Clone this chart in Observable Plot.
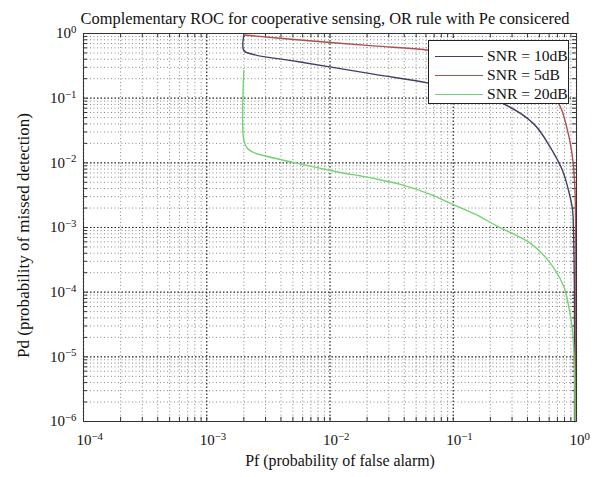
<!DOCTYPE html>
<html><head><meta charset="utf-8">
<script src="https://cdn.jsdelivr.net/npm/d3@7"></script>
<script src="https://cdn.jsdelivr.net/npm/@observablehq/plot@0.6"></script>
<style>
body{margin:0;background:#fff;}
#wrap{position:relative;width:597px;height:477px;font-family:"Liberation Serif",serif;}
#legend{position:absolute;left:428px;top:40px;width:141px;height:64px;background:#fff;border:1px solid #222;box-sizing:border-box;font-family:"Liberation Serif",serif;font-size:15.6px;color:#111;padding-top:5px;}
.row{position:relative;height:19.2px;line-height:19.2px;}
.sw{position:absolute;left:6px;top:10px;width:48px;height:0;border-top:1.4px solid;}
.lb{position:absolute;left:58px;top:0;white-space:nowrap;}
</style></head>
<body><div id="wrap"></div>
<script>
const title = "Complementary ROC for cooperative sensing, OR rule with Pe consicered";
const xLabel = "Pf (probability of false alarm)";
const yLabel = "Pd (probability of missed detection)";
const xTicks = [1e-4, 1e-3, 1e-2, 1e-1, 1];
const xTickLabels = ["10⁻⁴", "10⁻³", "10⁻²", "10⁻¹", "10⁰"];
const yTicks = [1e-6, 1e-5, 1e-4, 1e-3, 1e-2, 1e-1, 1];
const yTickLabels = ["10⁻⁶", "10⁻⁵", "10⁻⁴", "10⁻³", "10⁻²", "10⁻¹", "10⁰"];
const seriesNames = ["SNR = 10dB", "SNR = 5dB", "SNR = 20dB"];
const seriesColors = ["#404062", "#ad4f4f", "#72d472"];

const pf10 = [0.002, 0.002, 0.0024, 0.0054, 0.0225, 0.0653, 0.138, 0.251, 0.448, 0.615, 0.770, 0.863, 0.928, 0.945, 0.962, 0.964];
const pd10 = [0.95, 0.546, 0.473, 0.369, 0.235, 0.169, 0.118, 0.083, 0.0404, 0.0172, 0.0076, 0.0037, 0.0019, 0.0009, 0.0001, 0.000001];

const pf5 = [0.002, 0.0054, 0.0225, 0.0653, 0.241, 0.424, 0.56, 0.715, 0.845, 0.928, 0.972, 0.975];
const pd5 = [0.95, 0.80, 0.643, 0.546, 0.32, 0.188, 0.122, 0.083, 0.0317, 0.0121, 0.0037, 0.000001];

const pf20 = [0.002, 0.002, 0.00214, 0.00239, 0.00288, 0.00544, 0.0111, 0.0225, 0.0373, 0.0653, 0.0951, 0.152, 0.229, 0.424, 0.615, 0.787, 0.861, 0.928, 0.963, 0.975];
const pd20 = [0.268, 0.0222, 0.0167, 0.0145, 0.0130, 0.0098, 0.00736, 0.00574, 0.00464, 0.00325, 0.00236, 0.00159, 0.00104, 0.000568, 0.000279, 0.000123, 0.0000625, 0.0000257, 0.0000062, 0.000001];

const curves = [[pf10, pd10], [pf5, pd5], [pf20, pd20]];
const data = curves.flatMap(([xs, ys], i) => xs.map((x, j) => ({pf: x, pd: ys[j], s: seriesNames[i]})));

function minors(majors) {
  const out = [];
  for (let i = 0; i < majors.length - 1; i++) for (let k = 2; k <= 9; k++) out.push(majors[i] * k);
  return out;
}
const xMinor = minors(xTicks), yMinor = minors(yTicks);
const xAll = xTicks.concat(xMinor), yAll = yTicks.concat(yMinor);
const [x0, x1] = [xTicks[0], xTicks[xTicks.length - 1]];
const [y0, y1] = [yTicks[0], yTicks[yTicks.length - 1]];

const chart = Plot.plot({
  width: 597, height: 477,
  marginLeft: 83, marginRight: 21, marginTop: 33, marginBottom: 56,
  style: {fontFamily: "'Liberation Serif', serif", fontSize: "15px", color: "#111", background: "#fff"},
  x: {type: "log", domain: [x0, x1]},
  y: {type: "log", domain: [y0, y1]},
  color: {domain: seriesNames, range: seriesColors},
  marks: [
    Plot.gridX(xMinor, {stroke: "#777", strokeOpacity: 0.85, strokeDasharray: "1,2.5"}),
    Plot.gridY(yMinor, {stroke: "#777", strokeOpacity: 0.85, strokeDasharray: "1,2.5"}),
    Plot.gridX(xTicks, {stroke: "#222", strokeOpacity: 1, strokeWidth: 1.2, strokeDasharray: "1.5,2"}),
    Plot.gridY(yTicks, {stroke: "#222", strokeOpacity: 1, strokeWidth: 1.2, strokeDasharray: "1.5,2"}),
    Plot.axisX(xTicks, {tickSize: 0, tickPadding: 13, fontSize: 15, textAnchor: "start", dx: -7, label: null, tickFormat: (d) => xTickLabels[xTicks.indexOf(d)]}),
    Plot.axisY(yTicks, {tickSize: 0, tickPadding: 7, fontSize: 15, label: null, tickFormat: (d) => yTickLabels[yTicks.indexOf(d)]}),
    Plot.ruleX(xAll, {y1: y0, y2: y0 * 1.16, stroke: "#333"}),
    Plot.ruleX(xAll, {y1: y1, y2: y1 / 1.16, stroke: "#333"}),
    Plot.ruleY(yAll, {x1: x0, x2: x0 * 1.08, stroke: "#333"}),
    Plot.ruleY(yAll, {x1: x1, x2: x1 / 1.08, stroke: "#333"}),
    Plot.line(data, {x: "pf", y: "pd", z: "s", stroke: "s", strokeWidth: 1.4, curve: "catmull-rom"}),
    Plot.frame({stroke: "#333", strokeWidth: 1}),
    Plot.text([title], {frameAnchor: "top", dy: -21, dx: -5, fontSize: 16.4, fill: "#111"}),
    Plot.text([xLabel], {frameAnchor: "bottom", dy: 44, dx: 10, fontSize: 15.9, fill: "#111"}),
    Plot.text([yLabel], {frameAnchor: "left", dx: -60, dy: 8, rotate: -90, textAnchor: "middle", fontSize: 16, fill: "#111"})
  ]
});

// superscript exponents in tick labels
const supMap = {"⁰":"0","¹":"1","²":"2","³":"3","⁴":"4","⁵":"5","⁶":"6","⁷":"7","⁸":"8","⁹":"9","⁻":"−"};
const labelSet = new Set(xTickLabels.concat(yTickLabels));
chart.querySelectorAll("text").forEach(t => {
  const s = t.textContent;
  if (labelSet.has(s)) {
    const base = s.slice(0, 2), exp = Array.from(s.slice(2)).map(c => supMap[c] || c).join("");
    while (t.firstChild) t.removeChild(t.firstChild);
    const a = document.createElementNS("http://www.w3.org/2000/svg", "tspan");
    a.textContent = base;
    const b = document.createElementNS("http://www.w3.org/2000/svg", "tspan");
    b.textContent = exp; b.setAttribute("dy", "-0.5em"); b.setAttribute("font-size", "0.72em");
    t.appendChild(a); t.appendChild(b);
  } else if (s === yLabel) {
    t.setAttribute("textLength", "245");
    t.setAttribute("lengthAdjust", "spacingAndGlyphs");
  }
});

const wrap = document.getElementById("wrap");
wrap.appendChild(chart);
const lg = document.createElement("div");
lg.id = "legend";
seriesNames.forEach((n, i) => {
  const r = document.createElement("div"); r.className = "row";
  const s = document.createElement("div"); s.className = "sw"; s.style.borderTopColor = seriesColors[i];
  const t = document.createElement("div"); t.className = "lb"; t.textContent = n;
  r.appendChild(s); r.appendChild(t); lg.appendChild(r);
});
wrap.appendChild(lg);
</script></body></html>
